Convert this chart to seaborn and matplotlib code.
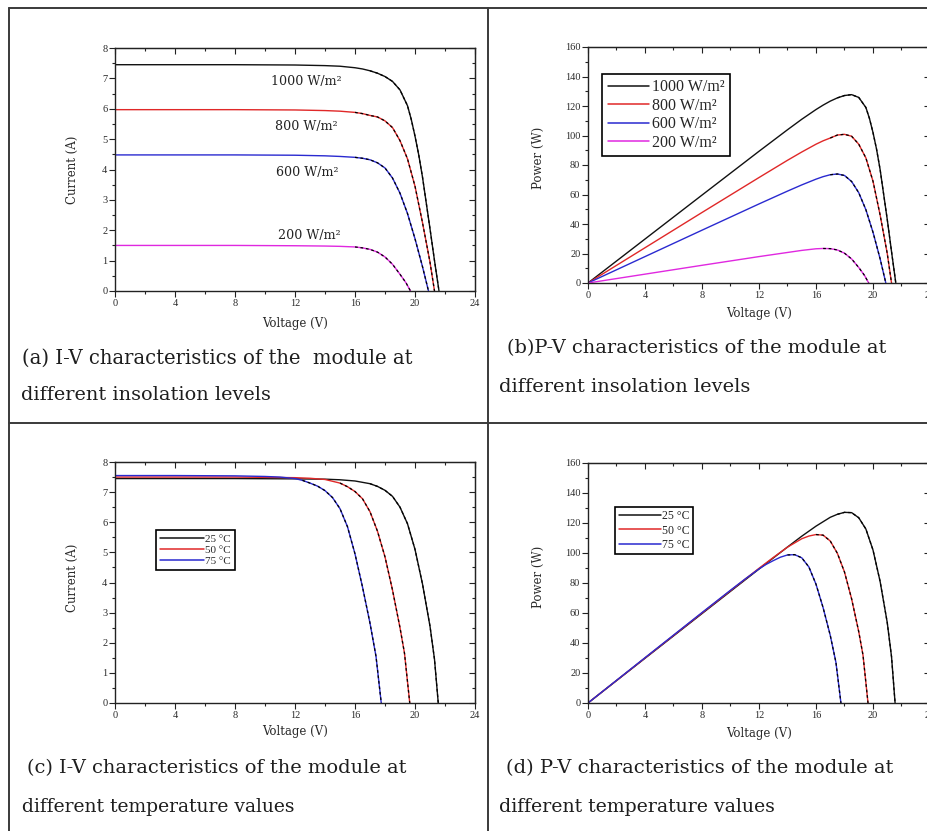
import matplotlib
matplotlib.use("Agg")
import matplotlib.pyplot as plt
import seaborn as sns
from matplotlib.lines import Line2D
from matplotlib.ticker import MultipleLocator

# ------------------------------------------------------------------ data
irr_labels = ["1000 W/m²", "800 W/m²", "600 W/m²", "200 W/m²"]

v_1000 = [0, 4, 8, 12, 14, 15, 16, 16.5, 17, 17.5, 18, 18.5, 19, 19.5, 19.75, 20, 20.25, 20.5, 21, 21.3, 21.6]
i_1000 = [7.45, 7.45, 7.45, 7.44, 7.42, 7.40, 7.35, 7.31, 7.25, 7.17, 7.06, 6.90, 6.62, 6.10, 5.65, 5.10, 4.48, 3.75, 2.05, 1.00, 0]
p_1000 = [0, 29.8, 59.6, 89.3, 103.9, 111.0, 117.6, 120.6, 123.3, 125.5, 127.1, 127.7, 125.8, 119.0, 111.6, 102.0, 90.7, 76.9, 43.1, 21.3, 0]

v_800 = [0, 4, 8, 12, 14, 15, 16, 16.5, 17, 17.5, 18, 18.5, 19, 19.5, 20, 20.5, 21, 21.3]
i_800 = [5.97, 5.97, 5.97, 5.96, 5.94, 5.92, 5.88, 5.84, 5.78, 5.73, 5.60, 5.38, 4.95, 4.35, 3.45, 2.25, 0.95, 0]
p_800 = [0, 23.9, 47.8, 71.5, 83.2, 88.8, 94.1, 96.4, 98.3, 100.3, 100.8, 99.5, 94.1, 84.8, 69.0, 46.1, 20.0, 0]

v_600 = [0, 4, 8, 12, 14, 15, 16, 16.5, 17, 17.5, 18, 18.5, 19, 19.5, 20, 20.5, 20.9]
i_600 = [4.48, 4.48, 4.48, 4.47, 4.45, 4.43, 4.40, 4.37, 4.32, 4.22, 4.05, 3.72, 3.22, 2.55, 1.72, 0.80, 0]
p_600 = [0, 17.9, 35.8, 53.6, 62.3, 66.5, 70.4, 72.1, 73.4, 73.9, 72.9, 68.8, 61.2, 49.7, 34.4, 16.4, 0]

v_200 = [0, 4, 8, 12, 14, 15, 16, 16.5, 17, 17.5, 18, 18.5, 19, 19.4, 19.7]
i_200 = [1.50, 1.50, 1.50, 1.49, 1.48, 1.47, 1.45, 1.42, 1.37, 1.28, 1.12, 0.88, 0.55, 0.27, 0]
p_200 = [0, 6.0, 12.0, 17.9, 20.7, 22.1, 23.2, 23.4, 23.3, 22.4, 20.2, 16.3, 10.5, 5.2, 0]

temp_labels = ["25 °C", "50 °C", "75 °C"]

v_25 = [0, 4, 8, 12, 14, 15, 16, 17, 17.5, 18, 18.5, 19, 19.5, 20, 20.5, 21, 21.3, 21.55]
i_25 = [7.45, 7.45, 7.45, 7.44, 7.43, 7.41, 7.37, 7.28, 7.19, 7.06, 6.86, 6.50, 5.95, 5.10, 3.95, 2.55, 1.45, 0]
p_25 = [0, 29.8, 59.6, 89.3, 104.0, 111.2, 117.9, 123.8, 125.8, 127.1, 126.9, 123.5, 116.0, 102.0, 81.0, 53.6, 30.9, 0]

v_50 = [0, 4, 8, 12, 13, 14, 15, 15.5, 16, 16.5, 17, 17.5, 18, 18.5, 19, 19.3, 19.65]
i_50 = [7.50, 7.50, 7.50, 7.48, 7.46, 7.42, 7.30, 7.18, 7.02, 6.78, 6.35, 5.70, 4.85, 3.75, 2.50, 1.65, 0]
p_50 = [0, 30.0, 60.0, 89.8, 97.0, 103.9, 109.5, 111.3, 112.3, 111.9, 108.0, 99.8, 87.3, 69.4, 47.5, 31.8, 0]

v_75 = [0, 4, 8, 10, 11, 12, 12.5, 13, 13.5, 14, 14.5, 15, 15.5, 16, 16.5, 17, 17.4, 17.75]
i_75 = [7.55, 7.55, 7.54, 7.52, 7.50, 7.45, 7.39, 7.30, 7.20, 7.05, 6.82, 6.45, 5.85, 4.95, 3.85, 2.65, 1.55, 0]
p_75 = [0, 30.2, 60.3, 75.2, 82.5, 89.4, 92.4, 94.9, 97.2, 98.7, 98.9, 96.8, 90.7, 79.2, 63.5, 45.1, 27.0, 0]

# voltage from which the black dashed (second) trace overlays each curve
overlay_a = [17.0, 16.0, 16.0, 16.0]
overlay_b = [17.5, 17.0, 17.0, 16.5]
overlay_c = [17.0, 15.0, 12.5]
overlay_d = [17.5, 16.0, 14.0]

captions = [
    ("(a) I-V characteristics of the  module at", "different insolation levels"),
    ("(b)P-V characteristics of the module at", "different insolation levels"),
    ("(c) I-V characteristics of the module at", "different temperature values"),
    ("(d) P-V characteristics of the module at", "different temperature values"),
]

# ------------------------------------------------------------------ style
sns.set_style("ticks")
plt.rcParams["font.family"] = ["Liberation Serif", "DejaVu Serif"]

irr_colors = ["#111111", "#e02828", "#2a2ad0", "#e028e0"]
temp_colors = ["#111111", "#e02828", "#2a2ad0"]

W, H = 928, 831
fig = plt.figure(figsize=(W / 100, H / 100), dpi=100)
fig.patch.set_facecolor("white")


def add_axes(l, t, r, b):
    return fig.add_axes([l / W, 1 - b / H, (r - l) / W, (b - t) / H])


axA = add_axes(115, 48, 475, 291)
axB = add_axes(588, 47, 930, 283)
axC = add_axes(115, 462, 475, 703)
axD = add_axes(588, 463, 930, 703)


def draw(ax, vs, ys, colors, labels, overlay):
    for v, y, c, lab in zip(vs, ys, colors, labels):
        kw = {"label": lab} if lab else {}
        sns.lineplot(x=v, y=y, ax=ax, color=c, linewidth=1.0,
                     estimator=None, sort=False, **kw)
    for v, y, s in zip(vs, ys, overlay):
        vv = [a for a in v if a >= s]
        yy = [b for a, b in zip(v, y) if a >= s]
        sns.lineplot(x=vv, y=yy, ax=ax, color="black", linewidth=0.9,
                     linestyle=(0, (2.2, 2.2)), estimator=None, sort=False)
    lg = ax.get_legend()
    if lg is not None:
        lg.remove()


def style(ax, ymax, ymaj, ymin, ylabel, ylab_x, ylab_y, xlab_y):
    ax.set_xlim(0, 24)
    ax.set_ylim(0, ymax)
    ax.xaxis.set_major_locator(MultipleLocator(4))
    ax.xaxis.set_minor_locator(MultipleLocator(2))
    ax.yaxis.set_major_locator(MultipleLocator(ymaj))
    ax.yaxis.set_minor_locator(MultipleLocator(ymin))
    ax.tick_params(which="both", direction="out", color="#222222", width=0.8,
                   labelsize=7.5, labelcolor="#2a2a2a")
    ax.tick_params(which="major", length=4, pad=1.5)
    ax.tick_params(which="minor", length=2)
    for s in ax.spines.values():
        s.set_color("#222222")
        s.set_linewidth(1.0)
    sx = ax.secondary_xaxis("top")
    sx.xaxis.set_major_locator(MultipleLocator(4))
    sx.xaxis.set_minor_locator(MultipleLocator(2))
    sx.tick_params(which="both", direction="in", labeltop=False, color="#222222", width=0.8)
    sx.tick_params(which="major", length=4)
    sx.tick_params(which="minor", length=2)
    sy = ax.secondary_yaxis("right")
    sy.yaxis.set_major_locator(MultipleLocator(ymaj))
    sy.yaxis.set_minor_locator(MultipleLocator(ymin))
    sy.tick_params(which="both", direction="in", labelright=False, color="#222222", width=0.8)
    sy.tick_params(which="major", length=4)
    sy.tick_params(which="minor", length=2)
    ax.set_xlabel("Voltage (V)", fontsize=8.5, color="#2a2a2a", family="DejaVu Serif")
    ax.set_ylabel(ylabel, fontsize=8.5, color="#2a2a2a", family="DejaVu Serif")
    ax.xaxis.set_label_coords(0.5, xlab_y)
    ax.xaxis.label.set_va("center")
    ax.yaxis.set_label_coords(ylab_x, ylab_y)
    ax.yaxis.label.set_va("center")


draw(axA, [v_1000, v_800, v_600, v_200], [i_1000, i_800, i_600, i_200],
     irr_colors, [None] * 4, overlay_a)
draw(axB, [v_1000, v_800, v_600, v_200], [p_1000, p_800, p_600, p_200],
     irr_colors, irr_labels, overlay_b)
draw(axC, [v_25, v_50, v_75], [i_25, i_50, i_75], temp_colors, temp_labels, overlay_c)
draw(axD, [v_25, v_50, v_75], [p_25, p_50, p_75], temp_colors, temp_labels, overlay_d)

style(axA, 8, 1, 0.5, "Current (A)", -0.117, 0.50, -32 / 243)
style(axB, 160, 20, 10, "Power (W)", -0.146, 0.53, -30 / 236)
style(axC, 8, 1, 0.5, "Current (A)", -0.117, 0.52, -29 / 241)
style(axD, 160, 20, 10, "Power (W)", -0.146, 0.525, -30 / 240)

# legends
leg_common = dict(loc="upper left", frameon=True, fancybox=False, framealpha=1,
                  edgecolor="black", borderaxespad=0)
lb = axB.legend(bbox_to_anchor=(0.041, 0.886), fontsize=11.5, handlelength=2.6,
                handletextpad=0.15, labelspacing=0.15, borderpad=0.35, **leg_common)
lc = axC.legend(bbox_to_anchor=(0.114, 0.718), fontsize=8, handlelength=4.0,
                handletextpad=0.05, labelspacing=0.12, borderpad=0.35, **leg_common)
ld = axD.legend(bbox_to_anchor=(0.079, 0.817), fontsize=8.5, handlelength=3.6,
                handletextpad=0.1, labelspacing=0.18, borderpad=0.3, **leg_common)
for lg in (lb, lc, ld):
    lg.get_frame().set_linewidth(1.2)
    for ln in lg.get_lines():
        ln.set_linewidth(1.1)

# annotations on (a)
ann_pos = [(12.73, 6.91), (12.73, 5.43), (12.8, 3.91), (12.93, 1.84)]
ann_texts = []
for lab, (x, y) in zip(irr_labels, ann_pos):
    t = axA.text(x, y, lab, ha="center", va="center", fontsize=8.5,
                 family="DejaVu Serif", color="#222222")
    ann_texts.append(t)

# table borders
lc_ = "#3a3a3a"
for (x0, y0, x1, y1) in [(9, 8, 928, 8), (9, 8, 9, 831), (488, 8, 488, 831), (9, 423, 928, 423)]:
    fig.add_artist(Line2D([x0 / W, x1 / W], [1 - y0 / H, 1 - y1 / H],
                          transform=fig.transFigure, color=lc_, linewidth=1.4))

# captions: (left x, y, target width) per line
cap_layout = [
    [(22, 358, 390), (21, 395, 249)],
    [(507, 348, 378), (499, 387, 250)],
    [(27, 768, 378), (22, 807, 275)],
    [(506, 768, 385), (499, 807, 277)],
]
cap_texts = []
for (l1, l2), lay in zip(captions, cap_layout):
    for txt, (x, y, w) in zip((l1, l2), lay):
        t = fig.text(x / W, 1 - y / H, txt, ha="left", va="center", fontsize=13,
                     family="DejaVu Serif", color="#1e1e1e")
        cap_texts.append((t, w))

fig.canvas.draw()
rend = fig.canvas.get_renderer()
for t, w in cap_texts:
    cw = t.get_window_extent(rend).width
    t.set_fontsize(t.get_fontsize() * w / cw)
cw = ann_texts[0].get_window_extent(rend).width
for t in ann_texts:
    t.set_fontsize(t.get_fontsize() * 70 / cw)

fig.savefig("out.png", dpi=100, facecolor="white")
